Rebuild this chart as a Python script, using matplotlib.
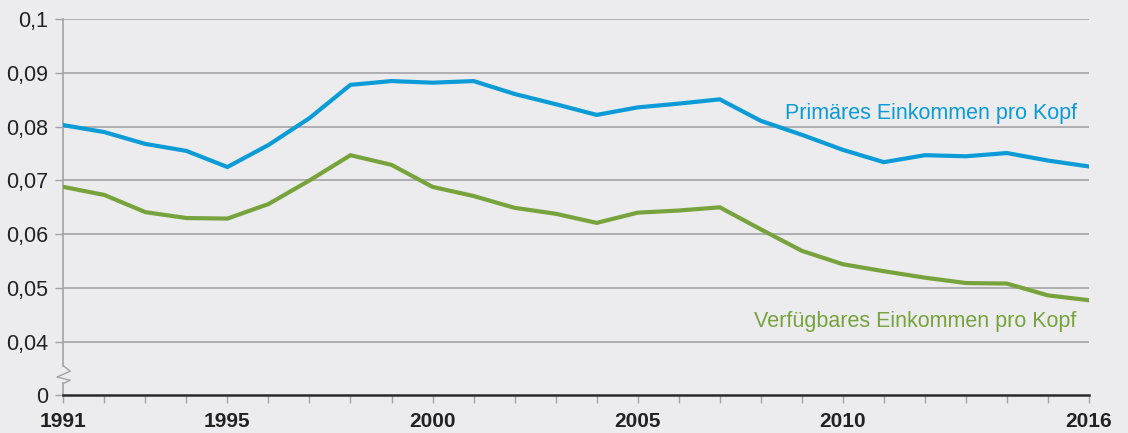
import matplotlib
matplotlib.use("Agg")
import matplotlib.pyplot as plt
import matplotlib.transforms as mtransforms

years = list(range(1991, 2017))
primaer = [0.0803, 0.0790, 0.0768, 0.0755, 0.0725, 0.0766, 0.0816, 0.0878, 0.0885, 0.0882,
           0.0885, 0.0861, 0.0842, 0.0822, 0.0836, 0.0843, 0.0851, 0.0811, 0.0785, 0.0757,
           0.0734, 0.0747, 0.0745, 0.0751, 0.0737, 0.0726]
verfuegbar = [0.0688, 0.0673, 0.0641, 0.0630, 0.0629, 0.0656, 0.0700, 0.0747, 0.0729, 0.0688,
              0.0671, 0.0649, 0.0638, 0.0621, 0.0640, 0.0644, 0.0650, 0.0609, 0.0569, 0.0544,
              0.0531, 0.0519, 0.0509, 0.0508, 0.0486, 0.0477]
# 0 is drawn at the 0.03 position (broken axis)
ytick_pos = [0.03, 0.04, 0.05, 0.06, 0.07, 0.08, 0.09, 0.10]
ytick_labels = ['0', '0,04', '0,05', '0,06', '0,07', '0,08', '0,09', '0,1']
xtick_years = [1991, 1995, 2000, 2005, 2010, 2016]

bg = '#ececee'
blue = '#0b9bd7'
green = '#76a33c'
grid_c = '#a3a3a5'
text_c = '#222222'

plt.rcParams['font.family'] = ['Liberation Sans', 'DejaVu Sans']

fig = plt.figure(figsize=(11.28, 4.33), dpi=100, facecolor=bg)
ax = fig.add_axes([63.3 / 1128, 1 - 395.3 / 433, (1089 - 63.3) / 1128, (395.3 - 19.3) / 433])
ax.set_facecolor(bg)

for y in ytick_pos[1:]:
    ax.axhline(y, color=grid_c, lw=1.2, zorder=1)

ax.plot(years, primaer, color=blue, lw=3.0, solid_joinstyle='miter', zorder=3)
ax.plot(years, verfuegbar, color=green, lw=3.0, solid_joinstyle='miter', zorder=3)

ax.set_xlim(1991, 2016)
ax.set_ylim(0.03, 0.10)
ax.set_yticks(ytick_pos)
ax.set_yticklabels(ytick_labels, fontsize=15.5, color=text_c)
ax.set_xticks(years, minor=True)
ax.set_xticks(xtick_years)
ax.set_xticklabels([str(y) for y in xtick_years], fontsize=15, fontweight='bold', color=text_c)
ax.tick_params(axis='y', length=6, width=1, color=grid_c, pad=5)
ax.tick_params(axis='x', which='both', length=6, width=1, color=grid_c, pad=6)

for s in ['top', 'right', 'left']:
    ax.spines[s].set_visible(False)
ax.spines['bottom'].set_color('#2a2a2a')
ax.spines['bottom'].set_linewidth(1.8)
ax.spines['bottom'].set_zorder(4)

# left axis with break
tr = mtransforms.blended_transform_factory(ax.transAxes, ax.transData)
dx = 7 / 1025.7
ax.plot([0, 0], [0.0355, 0.10], color=grid_c, lw=1.2, transform=tr, clip_on=False, zorder=2)
ax.plot([0, dx, -dx * 0.9, dx, 0], [0.0355, 0.0345, 0.0334, 0.0328, 0.0322],
        color=grid_c, lw=1.0, transform=tr, clip_on=False, zorder=2)
ax.plot([0, 0], [0.03, 0.0322], color=grid_c, lw=1.2, transform=tr, clip_on=False, zorder=2)

ax.text(2015.7, 0.0824, 'Primäres Einkommen pro Kopf', color=blue, fontsize=15.5,
        ha='right', va='center')
ax.text(2015.7, 0.0438, 'Verfügbares Einkommen pro Kopf', color=green, fontsize=15.5,
        ha='right', va='center')

fig.savefig('out.png', dpi=100, facecolor=bg)
